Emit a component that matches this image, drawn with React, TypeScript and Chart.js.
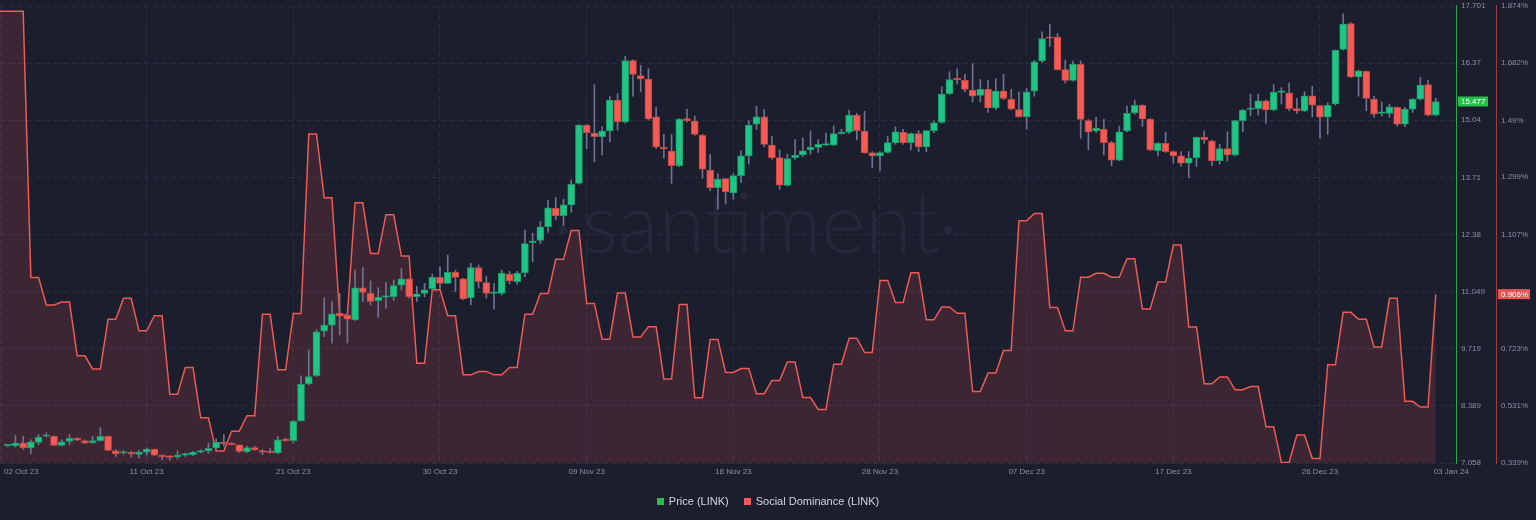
import React, { useEffect, useRef } from 'react';
import { Chart, registerables } from 'chart.js';

Chart.register(...registerables);

// 12h candles, index 0..185 (starting 02 Oct 23 12:00)
const opens = [7.46,7.46,7.52,7.41,7.54,7.68,7.68,7.47,7.56,7.63,
 7.58,7.53,7.58,7.68,7.34,7.29,7.29,7.26,7.31,7.38,
 7.24,7.20,7.20,7.24,7.25,7.31,7.34,7.41,7.54,7.51,
 7.48,7.32,7.42,7.34,7.32,7.29,7.60,7.58,8.04,8.90,
 9.09,10.13,10.27,10.55,10.50,10.39,11.14,11.01,10.84,10.92,
 10.93,11.20,11.35,10.93,11.01,11.12,11.38,11.24,11.50,11.35,
 10.90,11.61,11.26,11.01,11.01,11.46,11.28,11.49,12.19,12.24,
 12.56,12.99,12.82,13.07,13.57,14.93,14.74,14.66,14.79,15.51,
 15.00,16.43,16.08,16.00,15.12,14.41,14.32,13.98,15.08,15.02,
 14.69,13.88,13.47,13.68,13.35,13.75,14.21,14.95,15.12,14.46,
 14.17,13.52,14.17,14.23,14.35,14.41,14.46,14.46,14.73,14.76,
 15.16,14.79,14.28,14.21,14.29,14.52,14.76,14.52,14.73,14.42,
 14.80,14.99,15.66,15.99,15.97,15.74,15.62,15.76,15.33,15.72,
 15.53,15.29,15.12,15.72,16.42,16.96,16.98,16.22,15.97,16.34,
 15.03,14.79,14.83,14.52,14.11,14.79,15.21,15.39,15.07,14.33,
 14.50,14.31,14.21,14.04,14.17,14.64,14.56,14.10,14.38,14.23,
 15.03,15.29,15.31,15.49,15.28,15.69,15.68,15.31,15.26,15.61,
 15.38,15.11,15.42,16.69,17.29,16.05,16.18,15.53,15.20,15.20,
 15.34,14.95,15.30,15.53,15.87,15.16];

const highs = [7.48,7.70,7.68,7.60,7.72,7.76,7.69,7.60,7.72,7.65,
 7.60,7.68,7.88,7.69,7.37,7.35,7.33,7.35,7.41,7.38,
 7.25,7.23,7.34,7.29,7.33,7.37,7.52,7.62,7.72,7.54,
 7.48,7.45,7.45,7.37,7.40,7.68,7.64,8.05,9.09,9.68,
 10.16,10.91,10.82,11.01,10.55,11.55,11.61,11.30,11.14,11.26,
 11.32,11.59,11.35,11.17,11.24,11.46,11.63,11.90,11.55,11.36,
 11.71,11.67,11.41,11.24,11.55,11.52,11.52,12.48,12.41,12.68,
 13.18,13.24,13.20,13.65,14.94,14.94,15.87,14.89,15.59,15.66,
 16.53,16.45,16.32,16.24,15.34,14.71,14.71,15.08,15.30,15.14,
 14.71,14.24,13.80,13.68,13.80,14.33,15.03,15.37,15.29,14.66,
 14.35,14.25,14.59,14.63,14.79,14.59,14.75,14.91,14.83,15.28,
 15.20,15.25,14.31,14.31,14.67,14.89,14.83,14.75,14.80,14.81,
 15.03,15.82,16.17,16.24,16.11,16.36,15.99,15.97,16.01,16.11,
 15.76,15.70,15.78,16.44,17.10,17.27,17.06,16.44,16.42,16.42,
 15.06,15.11,15.06,14.55,14.90,15.37,15.51,15.40,15.08,14.52,
 14.76,14.33,14.31,14.31,14.65,14.79,14.58,14.48,14.77,15.04,
 15.29,15.65,15.65,15.51,15.87,15.80,15.91,15.55,15.70,15.83,
 15.39,15.45,16.68,17.52,17.31,16.21,16.19,15.60,15.47,15.42,
 15.35,15.34,15.55,16.04,15.97,15.55];

const lows = [7.44,7.43,7.38,7.27,7.48,7.66,7.46,7.46,7.48,7.58,
 7.51,7.51,7.57,7.34,7.21,7.26,7.20,7.17,7.24,7.23,
 7.13,7.12,7.15,7.21,7.23,7.29,7.29,7.38,7.45,7.48,
 7.30,7.30,7.35,7.25,7.29,7.27,7.56,7.52,8.03,8.88,
 9.07,10.00,9.85,10.04,9.85,10.38,10.82,10.74,10.45,10.66,
 10.84,11.09,10.90,10.82,10.93,11.09,11.10,11.23,11.05,10.86,
 10.74,11.13,10.90,10.64,10.97,11.23,11.22,11.40,11.75,12.17,
 12.43,12.72,12.59,12.90,13.55,14.38,14.07,14.23,14.54,14.81,
 14.97,15.60,15.70,15.04,14.38,14.16,13.57,13.96,15.00,14.69,
 13.69,13.40,12.97,13.09,13.20,13.59,14.02,14.83,14.42,14.13,
 13.43,13.51,14.13,14.19,14.25,14.29,14.45,14.45,14.72,14.73,
 14.58,14.27,13.94,13.86,14.27,14.48,14.48,14.35,14.31,14.31,
 14.75,14.97,15.64,15.88,15.70,15.47,15.47,15.22,15.29,15.52,
 15.28,15.11,14.83,15.60,16.38,16.76,16.21,15.91,15.95,14.62,
 14.35,14.75,14.23,13.98,14.10,14.77,15.18,14.90,14.33,14.21,
 14.29,14.04,13.97,13.70,13.96,14.50,13.98,14.02,14.09,14.21,
 14.77,15.14,15.16,14.97,15.26,15.42,15.26,15.20,15.24,15.12,
 14.62,14.71,15.39,16.67,16.04,15.60,15.26,15.11,15.14,15.11,
 14.90,14.89,15.22,15.51,15.14,15.14];

const closes = [7.47,7.52,7.41,7.55,7.66,7.71,7.47,7.55,7.63,7.59,
 7.52,7.58,7.68,7.35,7.27,7.29,7.27,7.31,7.38,7.24,
 7.20,7.19,7.25,7.26,7.31,7.34,7.40,7.54,7.51,7.48,
 7.33,7.42,7.36,7.31,7.30,7.60,7.58,8.03,8.89,9.07,
 10.11,10.27,10.53,10.48,10.41,11.14,11.03,10.82,10.92,10.93,
 11.19,11.35,10.93,11.00,11.09,11.38,11.24,11.50,11.38,10.88,
 11.61,11.28,11.01,11.02,11.48,11.30,11.48,12.17,12.23,12.56,
 13.00,12.82,13.07,13.55,14.93,14.75,14.66,14.79,15.51,15.00,
 16.43,16.11,16.00,15.07,14.42,14.37,13.98,15.07,15.03,14.71,
 13.90,13.47,13.67,13.37,13.75,14.21,14.93,15.12,14.48,14.17,
 13.53,14.15,14.23,14.33,14.41,14.48,14.47,14.73,14.75,15.16,
 14.80,14.28,14.21,14.29,14.52,14.77,14.52,14.73,14.42,14.80,
 14.98,15.65,15.99,15.98,15.76,15.60,15.76,15.33,15.72,15.55,
 15.30,15.12,15.70,16.40,16.94,16.95,16.22,15.97,16.34,15.06,
 14.77,14.86,14.52,14.11,14.77,15.20,15.39,15.07,14.35,14.50,
 14.31,14.21,14.04,14.16,14.64,14.59,14.10,14.38,14.23,15.03,
 15.28,15.31,15.49,15.28,15.69,15.71,15.31,15.26,15.61,15.39,
 15.11,15.39,16.67,17.28,16.05,16.19,15.55,15.18,15.20,15.35,
 14.95,15.30,15.53,15.86,15.16,15.477];

// daily social dominance (%), first value covers slots -1..0, then 2 slots per day
const dominance = [1.856,1.856,0.962,0.870,0.880,0.699,0.655,0.822,0.892,0.783,
 0.834,0.570,0.660,0.491,0.379,0.446,0.498,0.839,0.652,0.841,
 1.444,1.230,0.836,1.213,1.043,1.173,1.034,0.674,0.921,0.834,
 0.635,0.646,0.635,0.660,0.839,0.908,1.023,1.120,0.875,0.755,
 0.910,0.762,0.797,0.621,0.871,0.558,0.754,0.643,0.656,0.572,
 0.616,0.678,0.559,0.519,0.671,0.758,0.710,0.952,0.878,0.978,
 0.820,0.863,0.842,0.579,0.641,0.717,1.153,1.177,0.861,0.783,
 0.963,0.976,0.963,1.025,0.856,0.947,1.071,0.796,0.605,0.628,
 0.585,0.596,0.461,0.341,0.433,0.354,0.669,0.845,0.822,0.729,
 0.892,0.546,0.527,0.906];

const priceTicks = [7.058, 8.389, 9.719, 11.049, 12.38, 13.71, 15.04, 16.37, 17.701];
const priceTickLabels = ['7.058', '8.389', '9.719', '11.049', '12.38', '13.71', '15.04', '16.37', '17.701'];
const domTicks = [0.339, 0.531, 0.723, 0.915, 1.107, 1.299, 1.49, 1.682, 1.874];
const domTickLabels = ['0.339%', '0.531%', '0.723%', '0.915%', '1.107%', '1.299%', '1.49%', '1.682%', '1.874%'];
const dateSlots = [-1, 18, 37, 56, 75, 94, 113, 132, 151, 170, 187];
const dateLabels = ['02 Oct 23', '11 Oct 23', '21 Oct 23', '30 Oct 23', '09 Nov 23', '18 Nov 23', '28 Nov 23', '07 Dec 23', '17 Dec 23', '26 Dec 23', '03 Jan 24'];

const BG = '#1b1e2d';
const GRID = '#2a2e42';
const AXIS_TXT = '#8d90a3';
const FONT = "'Liberation Sans', Arial, sans-serif";
const UP = '#20c585';
const UP_BORDER = '#179c69';
const DOWN = '#f45b57';
const DOWN_BORDER = '#c8463f';
const WICK = '#6f7290';
const LINE = '#ee5a55';

const bgPlugin = {
  id: 'bgPlugin',
  beforeDraw(chart: any) {
    const { ctx, width, height } = chart;
    ctx.save();
    ctx.fillStyle = BG;
    ctx.fillRect(0, 0, width, height);
    ctx.restore();
  },
};

const watermarkPlugin = {
  id: 'watermark',
  beforeDatasetsDraw(chart: any) {
    const { ctx } = chart;
    ctx.save();
    ctx.font = `300 100px Lato, 'Open Sans', sans-serif`;
    const w = ctx.measureText('santiment').width;
    const size = (100 * 358) / w;
    ctx.font = `300 ${size}px Lato, 'Open Sans', sans-serif`;
    ctx.fillStyle = '#242839';
    ctx.textAlign = 'left';
    ctx.textBaseline = 'alphabetic';
    ctx.fillText('santiment', 582, 253);
    ctx.beginPath();
    ctx.arc(563, 230, 4.5, 0, Math.PI * 2);
    ctx.arc(948, 230, 4.5, 0, Math.PI * 2);
    ctx.fill();
    ctx.restore();
  },
};

const overlayPlugin = {
  id: 'overlay',
  afterDraw(chart: any) {
    const { ctx, chartArea } = chart;
    const xs = chart.scales.x;
    const yP = chart.scales.y;
    const yD = chart.scales.y2;
    ctx.save();
    // axis lines
    ctx.lineWidth = 1;
    ctx.strokeStyle = '#23a84a';
    ctx.beginPath();
    ctx.moveTo(Math.round(yP.left) + 0.5, chartArea.top - 1);
    ctx.lineTo(Math.round(yP.left) + 0.5, chartArea.bottom + 1);
    ctx.stroke();
    ctx.strokeStyle = '#a33b46';
    ctx.beginPath();
    ctx.moveTo(Math.round(yD.left) + 0.5, chartArea.top - 1);
    ctx.lineTo(Math.round(yD.left) + 0.5, chartArea.bottom + 1);
    ctx.stroke();

    ctx.font = `8px ${FONT}`;
    ctx.fillStyle = AXIS_TXT;
    ctx.textBaseline = 'middle';
    dateSlots.forEach((s, i) => {
      let px = xs.getPixelForValue(s);
      if (i === 0) {
        ctx.textAlign = 'left';
        px += 4;
      } else {
        ctx.textAlign = 'center';
      }
      ctx.fillText(dateLabels[i], px, chartArea.bottom + 8.5);
    });
    // last value boxes
    const lastClose = closes[closes.length - 1];
    const py = yP.getPixelForValue(lastClose);
    ctx.fillStyle = '#27bf4c';
    ctx.fillRect(yP.left + 2, py - 5, 30, 10);
    ctx.fillStyle = '#ffffff';
    ctx.textAlign = 'left';
    ctx.fillText(lastClose.toFixed(3), yP.left + 5, py + 0.5);
    const lastDom = dominance[dominance.length - 1];
    const dy = yD.getPixelForValue(lastDom);
    ctx.fillStyle = '#ec5454';
    ctx.fillRect(yD.left + 2, dy - 5, 32, 10);
    ctx.fillStyle = '#ffffff';
    ctx.fillText(lastDom.toFixed(3) + '%', yD.left + 5, dy + 0.5);
    ctx.restore();
  },
};

const fitRightAxis = (s: any) => {
  s.width = 40;
  s.paddingTop = 0;
  s.paddingBottom = 0;
};

export default function App() {
  const ref = useRef<HTMLCanvasElement>(null);
  useEffect(() => {
    document.body.style.margin = '0';
    document.body.style.background = BG;
    const n = closes.length;
    const wickData = closes.map((_c, i) => ({ x: i, y: [lows[i], highs[i]] }));
    const bodyData = closes.map((c, i) => ({ x: i, y: [opens[i], c] }));
    const bodyColors = closes.map((c, i) => (c >= opens[i] ? UP : DOWN));
    const bodyBorders = closes.map((c, i) => (c >= opens[i] ? UP_BORDER : DOWN_BORDER));
    const domPoints: { x: number; y: number }[] = [];
    dominance.forEach((v, k) => {
      const s0 = 2 * k - 1;
      [s0, s0 + 1].forEach((s) => {
        if (s <= n - 1) domPoints.push({ x: s, y: v });
      });
    });

    const chart = new Chart(ref.current as HTMLCanvasElement, {
      type: 'bar',
      data: {
        datasets: [
          {
            type: 'bar',
            label: 'wicks',
            data: wickData as any,
            backgroundColor: WICK,
            barThickness: 1,
            grouped: false,
            order: 2,
            xAxisID: 'x',
            yAxisID: 'y',
          } as any,
          {
            type: 'bar',
            label: 'Price (LINK)',
            data: bodyData as any,
            backgroundColor: bodyColors,
            borderColor: bodyBorders,
            borderWidth: 1,
            borderSkipped: false,
            barThickness: 7,
            minBarLength: 1.5,
            grouped: false,
            order: 1,
            xAxisID: 'x',
            yAxisID: 'y',
          } as any,
          {
            type: 'line',
            label: 'Social Dominance (LINK)',
            data: domPoints as any,
            borderColor: LINE,
            borderWidth: 1.5,
            backgroundColor: 'rgba(255, 90, 90, 0.145)',
            fill: 'start',
            pointRadius: 0,
            tension: 0,
            order: 3,
            xAxisID: 'x',
            yAxisID: 'y2',
          } as any,
        ],
      },
      options: {
        responsive: false,
        animation: false,
        devicePixelRatio: 1,
        layout: { padding: { top: 6, bottom: 57, left: 0, right: 0 } },
        plugins: {
          legend: { display: false },
          tooltip: { enabled: false },
        },
        scales: {
          x: {
            type: 'linear',
            min: -1,
            max: 187.62,
            bounds: 'data',
            offset: false,
            grid: { color: GRID, lineWidth: 1, offset: false, drawTicks: false },
            border: { display: false, dash: [5, 4] },
            ticks: { display: false },
            afterBuildTicks: (s: any) => {
              s.ticks = dateSlots.slice(0, 10).map((v) => ({ value: v }));
            },
            afterFit: (s: any) => {
              s.height = 0;
              s.paddingLeft = 0;
              s.paddingRight = 0;
            },
          },
          y: {
            type: 'linear',
            position: 'right',
            min: 7.058,
            max: 17.701,
            bounds: 'data',
            weight: 0,
            grid: { color: GRID, lineWidth: 1, drawTicks: false },
            border: { display: false, dash: [5, 4] },
            ticks: {
              color: AXIS_TXT,
              font: { family: FONT, size: 8, lineHeight: 1.2 },
              padding: 5,
              autoSkip: false,
              callback: (_v: any, i: number) => priceTickLabels[i],
            },
            afterBuildTicks: (s: any) => {
              s.ticks = priceTicks.map((v) => ({ value: v }));
            },
            afterFit: fitRightAxis,
          },
          y2: {
            type: 'linear',
            position: 'right',
            min: 0.339,
            max: 1.874,
            bounds: 'data',
            weight: 1,
            grid: { display: false, drawOnChartArea: false, drawTicks: false },
            border: { display: false },
            ticks: {
              color: AXIS_TXT,
              font: { family: FONT, size: 8, lineHeight: 1.2 },
              padding: 5,
              autoSkip: false,
              callback: (_v: any, i: number) => domTickLabels[i],
            },
            afterBuildTicks: (s: any) => {
              s.ticks = domTicks.map((v) => ({ value: v }));
            },
            afterFit: fitRightAxis,
          },
        },
      } as any,
      plugins: [bgPlugin, watermarkPlugin, overlayPlugin],
    });
    return () => chart.destroy();
  }, []);

  const legendItem = (color: string, text: string) => (
    <div style={{ display: 'flex', alignItems: 'center' }}>
      <span style={{ display: 'inline-block', width: 7, height: 7, background: color, marginRight: 5 }} />
      <span>{text}</span>
    </div>
  );

  return (
    <div style={{ position: 'relative', width: 1536, height: 520, background: BG, overflow: 'hidden' }}>
      <canvas ref={ref} width={1536} height={520} style={{ display: 'block', width: 1536, height: 520 }} />
      <div
        style={{
          position: 'absolute',
          left: 0,
          top: 494,
          width: 1536,
          height: 14,
          display: 'flex',
          justifyContent: 'center',
          alignItems: 'center',
          gap: 15,
          fontFamily: FONT,
          fontSize: 11,
          lineHeight: '14px',
          color: '#d2d4de',
        }}
      >
        {legendItem('#2bbd4a', 'Price (LINK)')}
        {legendItem('#f05a5a', 'Social Dominance (LINK)')}
      </div>
    </div>
  );
}
